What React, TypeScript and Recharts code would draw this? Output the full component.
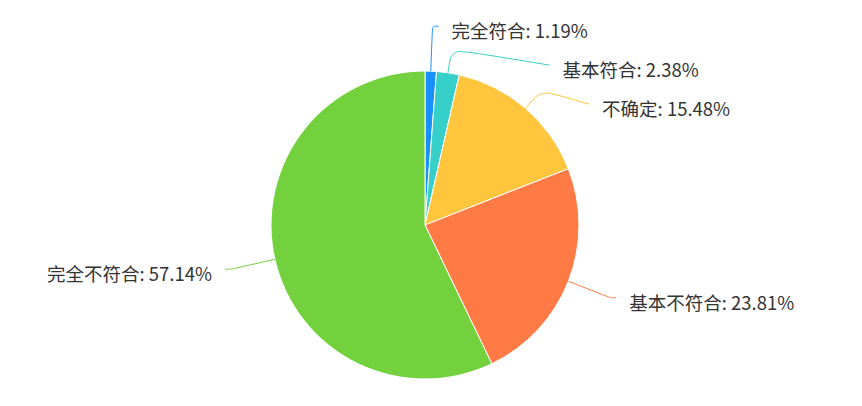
import { PieChart, Pie, Cell } from "recharts";

// ---------------------------------------------------------------------------
// Data
// ---------------------------------------------------------------------------

const CATEGORIES = ["完全符合", "基本符合", "不确定", "基本不符合", "完全不符合"];
const COUNTS = [1, 2, 13, 20, 48];
const COLORS = ["#1890ff", "#36cfc9", "#ffc53d", "#ff7a45", "#73d13d"];

// ---------------------------------------------------------------------------
// Layout
// ---------------------------------------------------------------------------

const WIDTH = 862;
const HEIGHT = 406;
const CX = 425;
const CY = 225;
const R = 154;
const ELBOW = 24; // first label line segment
const LABEL_LEN = 45; // where labels sit before overlap fixing
const GAP = 39; // min vertical distance between labels on one side
const LINE_GAP = 6;
const TEXT_GAP = 19;
const SMOOTH = 0.3;

const TOTAL = COUNTS.reduce((a, b) => a + b, 0);

const chartData = CATEGORIES.map((name, i) => ({
  name,
  value: COUNTS[i],
  pct: ((COUNTS[i] / TOTAL) * 100).toFixed(2) + "%",
}));

interface LabelPos {
  y: number;
  dx: number;
  dir: number;
}

// echarts-like label placement: push down overlapping labels, then put
// them on an ellipse round the pie
function layoutLabels(): LabelPos[] {
  let acc = 0;
  const rA = R + LABEL_LEN;
  const items = COUNTS.map((c) => {
    const mid = ((90 - ((acc + c / 2) / TOTAL) * 360) * Math.PI) / 180;
    acc += c;
    const cos = Math.cos(mid);
    const sin = Math.sin(mid);
    return { y: CY - rA * sin, x0: rA * cos, dir: cos >= 0 ? 1 : -1, dx: 0 };
  });

  for (const side of [1, -1]) {
    const list = items.filter((it) => it.dir === side).sort((a, b) => a.y - b.y);
    let last = -Infinity;
    for (const it of list) {
      if (it.y < last + GAP) it.y = last + GAP;
      last = it.y;
    }
    for (const semi of [list.filter((it) => it.y < CY), list.filter((it) => it.y >= CY)]) {
      if (!semi.length) continue;
      const far = semi.reduce((a, b) => (Math.abs(b.y - CY) > Math.abs(a.y - CY) ? b : a));
      const fdy = Math.abs(far.y - CY);
      const rB = Math.abs(far.x0) < rA ? fdy / Math.sqrt(1 - (far.x0 * far.x0) / (rA * rA)) : rA;
      for (const it of semi) {
        const dy = Math.abs(it.y - CY);
        it.dx = Math.sqrt(Math.max(0, 1 - (dy * dy) / (rB * rB))) * rA;
      }
    }
  }
  return items.map(({ y, dx, dir }) => ({ y, dx, dir }));
}

const LABELS = layoutLabels();

type Pt = [number, number];

function lerp(a: Pt, b: Pt, t: number): Pt {
  return [a[0] + (b[0] - a[0]) * t, a[1] + (b[1] - a[1]) * t];
}

function dist(a: Pt, b: Pt) {
  return Math.hypot(a[0] - b[0], a[1] - b[1]);
}

function smoothPath(p0: Pt, p1: Pt, p2: Pt) {
  const l1 = dist(p0, p1);
  const l2 = dist(p1, p2);
  if (!l1 || !l2) return `M${p0[0]},${p0[1]}L${p1[0]},${p1[1]}L${p2[0]},${p2[1]}`;
  const move = Math.min(l1, l2) * SMOOTH;
  const m0 = lerp(p1, p0, move / l1);
  const m2 = lerp(p1, p2, move / l2);
  const m1 = lerp(m0, m2, 0.5);
  return (
    `M${p0[0]},${p0[1]}` +
    `C${m0[0]},${m0[1]} ${m0[0]},${m0[1]} ${m1[0]},${m1[1]}` +
    `C${m2[0]},${m2[1]} ${m2[0]},${m2[1]} ${p2[0]},${p2[1]}`
  );
}

// eslint-disable-next-line @typescript-eslint/no-explicit-any
function renderLabel(props: any) {
  const { cx, cy, midAngle, outerRadius, index } = props;
  const lab = LABELS[index];
  const rad = (midAngle * Math.PI) / 180;
  const ux = Math.cos(rad);
  const uy = -Math.sin(rad);
  const p0: Pt = [cx + outerRadius * ux, cy + outerRadius * uy];

  // stretch the first segment when the label sits further out than the elbow
  let t = ELBOW;
  const need = (lab.y - p0[1]) / uy;
  if (Math.abs(uy) > 1e-6 && need > t) t = Math.min(need, LABEL_LEN + 5);
  const p1: Pt = [p0[0] + t * ux, p0[1] + t * uy];
  const p2: Pt = [cx + lab.dir * (lab.dx + LINE_GAP), lab.y];
  const color = COLORS[index];

  return (
    <g key={`lab-${index}`}>
      <path d={smoothPath(p0, p1, p2)} stroke={color} strokeWidth={1} fill="none" />
      <text
        x={cx + lab.dir * (lab.dx + TEXT_GAP)}
        y={lab.y + 4}
        textAnchor={lab.dir > 0 ? "start" : "end"}
        dominantBaseline="central"
        fill="#333"
        fontSize={18.5}
        fontFamily='"Noto Sans CJK SC", "Noto Sans", sans-serif'
      >
        {`${chartData[index].name}: ${chartData[index].pct}`}
      </text>
    </g>
  );
}

export default function App() {
  return (
    <div style={{ position: "absolute", left: 0, top: 0, width: WIDTH, height: HEIGHT, background: "#fff" }}>
      <PieChart width={WIDTH} height={HEIGHT} margin={{ top: 0, right: 0, bottom: 0, left: 0 }}>
        <Pie
          data={chartData}
          dataKey="value"
          nameKey="name"
          cx={CX}
          cy={CY}
          outerRadius={R}
          startAngle={90}
          endAngle={-270}
          stroke="#fff"
          strokeWidth={1}
          label={renderLabel}
          labelLine={false}
          isAnimationActive={false}
        >
          {chartData.map((d, i) => (
            <Cell key={d.name} fill={COLORS[i]} />
          ))}
        </Pie>
      </PieChart>
    </div>
  );
}
